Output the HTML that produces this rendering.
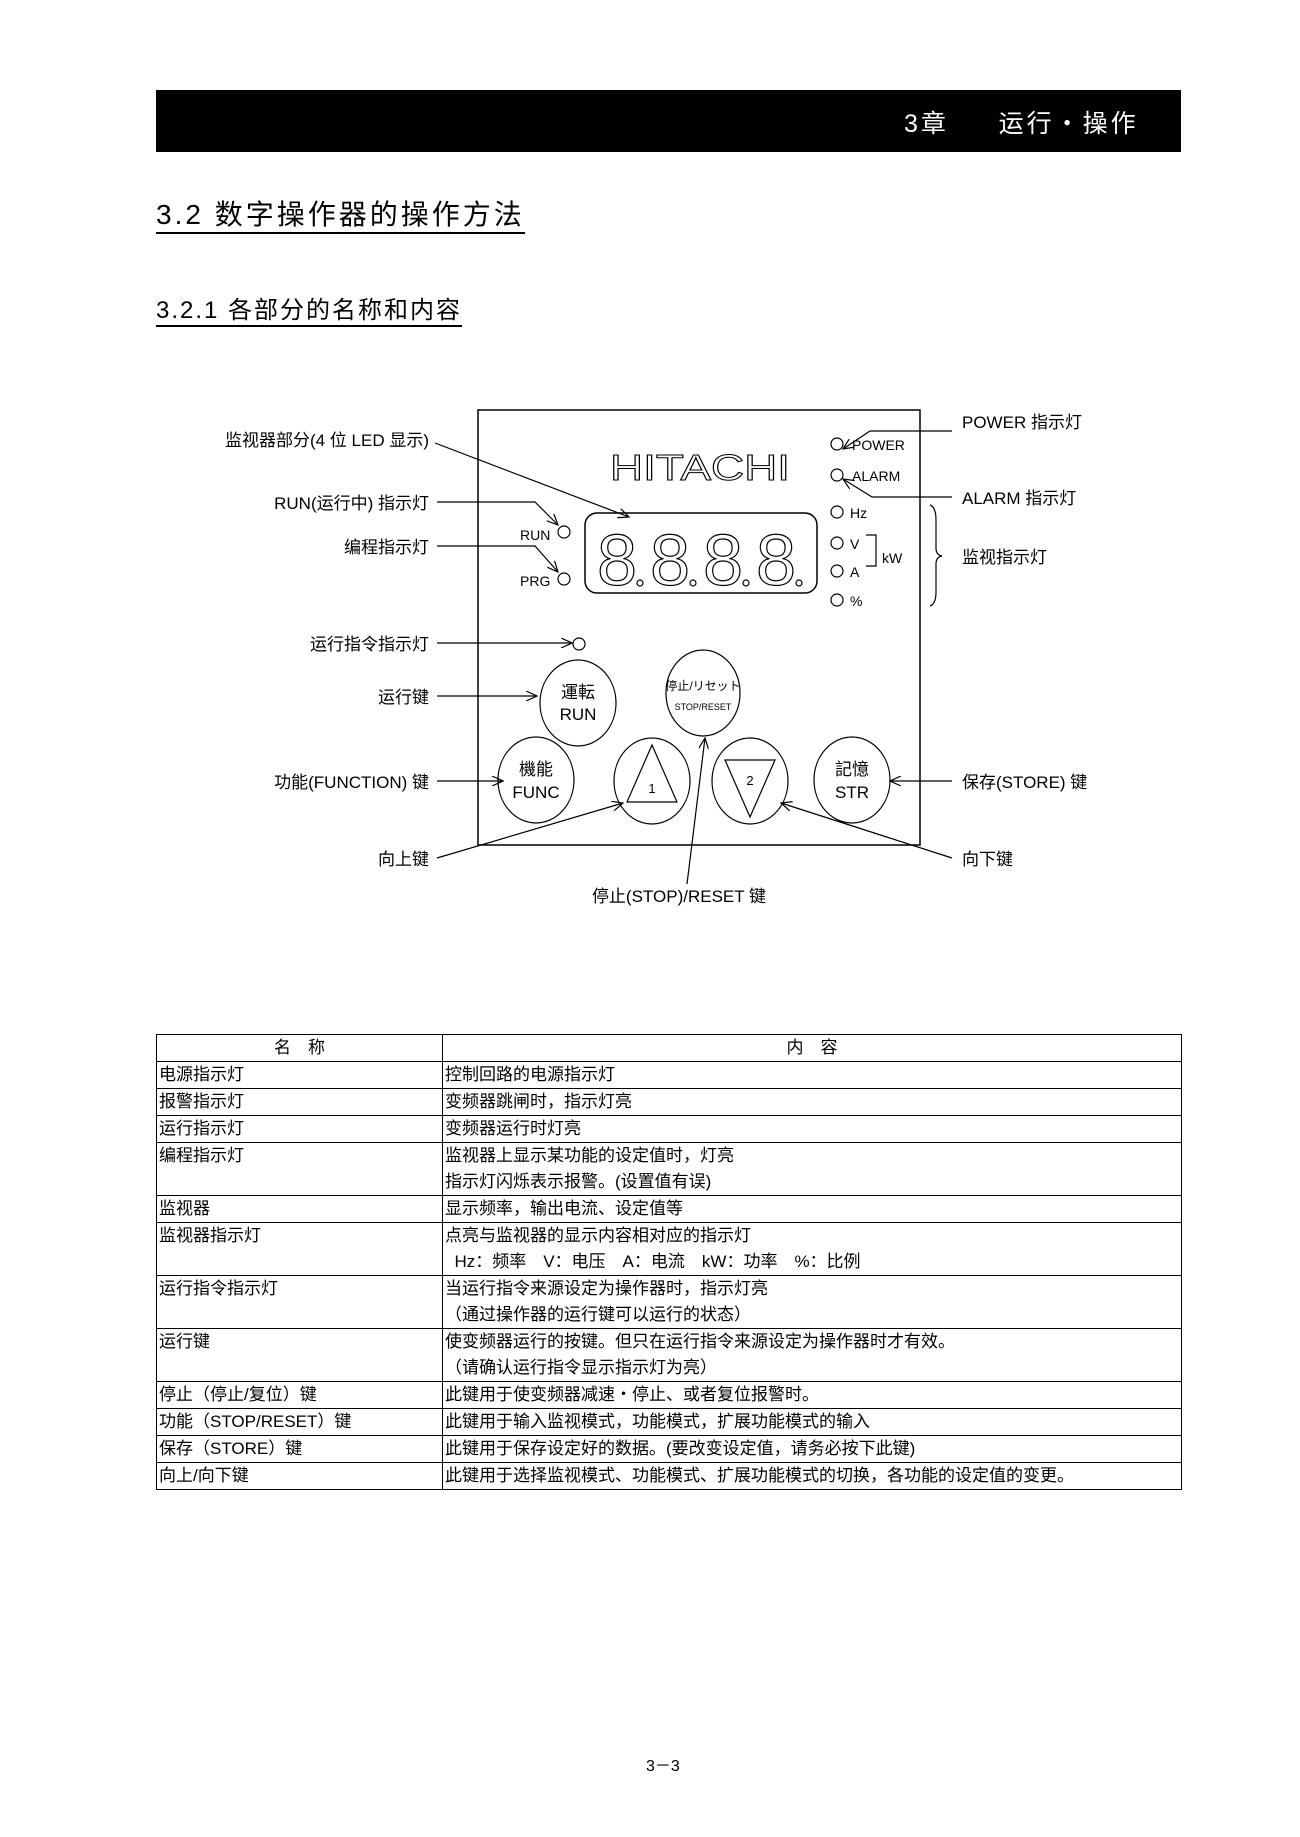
<!DOCTYPE html>
<html><head><meta charset="utf-8"><style>
html,body{margin:0;padding:0;background:#fff;}
body{width:1300px;height:1837px;position:relative;font-family:"Liberation Sans","Noto Sans CJK SC",sans-serif;color:#000;}
.bar{position:absolute;left:156px;top:90px;width:1025px;height:62px;background:#000;}
.bar span{position:absolute;left:748px;top:14px;color:#fff;font-size:25px;white-space:pre;letter-spacing:3px;}
.h1{position:absolute;left:156px;top:198px;font-size:28px;border-bottom:2px solid #000;line-height:34px;letter-spacing:3px;}
.h2{position:absolute;left:156px;top:296px;font-size:24px;border-bottom:2px solid #000;line-height:29px;letter-spacing:2px;}
table{position:absolute;left:156px;top:1034px;width:1026px;border-collapse:collapse;font-size:17px;}
td{border:1px solid #000;padding:0 2px;line-height:26px;vertical-align:top;}
td.a{width:281px;}
.pn{position:absolute;left:646px;top:1752px;font-size:16px;}
</style></head><body>
<div class="bar"><span>3章     运行・操作</span></div>
<div class="h1">3.2 数字操作器的操作方法</div>
<div class="h2">3.2.1 各部分的名称和内容</div>

<svg style="position:absolute;left:0;top:0" width="1300" height="950" font-family="Liberation Sans, Noto Sans CJK SC, sans-serif">
<defs><marker id="ar" markerWidth="12" markerHeight="10" refX="11" refY="5" orient="auto" markerUnits="userSpaceOnUse"><path d="M0,0 L11,5 L0,10" fill="none" stroke="#000" stroke-width="1.2"/></marker></defs>
<rect x="478" y="410" width="442" height="435" fill="none" stroke="#000" stroke-width="1.5"/>
<text x="700" y="480" font-size="36" text-anchor="middle" fill="none" stroke="#000" stroke-width="1" textLength="180" lengthAdjust="spacingAndGlyphs">HITACHI</text>
<rect x="585" y="513" width="232" height="80" rx="12" fill="none" stroke="#000" stroke-width="1.5"/>
<g font-size="72" fill="none" stroke="#000" stroke-width="1.2">
<text x="597" y="585">8</text><text x="650" y="585">8</text><text x="703" y="585">8</text><text x="756" y="585">8</text></g>
<g fill="none" stroke="#000" stroke-width="1.2">
<circle cx="640" cy="583" r="3"/><circle cx="693" cy="583" r="3"/><circle cx="746" cy="583" r="3"/><circle cx="799" cy="583" r="3"/>
<circle cx="564" cy="532" r="6"/><circle cx="564" cy="579" r="6"/><circle cx="579" cy="644" r="6"/>
<circle cx="837" cy="444" r="6"/><circle cx="837" cy="475" r="6"/><circle cx="837" cy="512" r="6"/><circle cx="837" cy="543" r="6"/><circle cx="837" cy="571" r="6"/><circle cx="837" cy="600" r="6"/>
<path d="M866,535 L876,535 L876,566 L866,566"/>
<path d="M930,505 Q936,507 936,520 L936,548 Q936,555 942,556 Q936,557 936,564 L936,592 Q936,604 930,606"/>
<ellipse cx="578" cy="703" rx="38" ry="43"/><ellipse cx="703" cy="693" rx="37" ry="43"/>
<ellipse cx="536" cy="780" rx="38" ry="43"/><ellipse cx="652" cy="781" rx="38" ry="43"/><ellipse cx="750" cy="781" rx="38" ry="43"/><ellipse cx="852" cy="780" rx="38" ry="43"/>
<path d="M652,745 L627,802 L677,802 Z"/><path d="M725,760 L775,760 L750,817 Z"/>
</g>
<g font-size="14"><text x="520" y="540">RUN</text><text x="520" y="586">PRG</text>
<text x="852" y="450">POWER</text><text x="852" y="481">ALARM</text><text x="850" y="518">Hz</text><text x="850" y="549">V</text><text x="850" y="577">A</text><text x="850" y="606">%</text><text x="882" y="563">kW</text></g>
<g font-size="17" text-anchor="middle"><text x="578" y="698">運転</text><text x="578" y="720">RUN</text>
<text x="536" y="775">機能</text><text x="536" y="798">FUNC</text><text x="852" y="775">記憶</text><text x="852" y="798">STR</text></g>
<g text-anchor="middle"><text x="703" y="690" font-size="12">停止/リセット</text><text x="703" y="710" font-size="9">STOP/RESET</text>
<text x="652" y="793" font-size="13">1</text><text x="750" y="785" font-size="13">2</text></g>
<g font-size="17" text-anchor="end">
<text x="429" y="446">监视器部分(4 位 LED 显示)</text><text x="429" y="509">RUN(运行中) 指示灯</text><text x="429" y="553">编程指示灯</text>
<text x="429" y="650">运行指令指示灯</text><text x="429" y="703">运行键</text><text x="429" y="788">功能(FUNCTION) 键</text><text x="429" y="865">向上键</text></g>
<g font-size="17"><text x="962" y="428">POWER 指示灯</text><text x="962" y="504">ALARM 指示灯</text><text x="962" y="563">监视指示灯</text>
<text x="962" y="788">保存(STORE) 键</text><text x="962" y="865">向下键</text><text x="679" y="902" text-anchor="middle">停止(STOP)/RESET 键</text></g>
<g fill="none" stroke="#000" stroke-width="1.2" marker-end="url(#ar)">
<path d="M435,443 L629,517"/><path d="M437,502 L535,502 L558,525"/><path d="M437,546 L535,546 L558,572"/>
<path d="M437,643 L572,643"/><path d="M437,696 L537,696"/><path d="M437,781 L503,781"/>
<path d="M437,858 L623,803"/><path d="M687,884 L705,738"/><path d="M952,858 L781,803"/><path d="M952,781 L890,781"/>
<path d="M952,431 L870,431 L843,449"/><path d="M952,497 L872,497 L843,479"/>
</g>
</svg>

<table>
<tr><td class="a" style="text-align:center">名　称</td><td style="text-align:center">内　容</td></tr>
<tr><td class="a">电源指示灯</td><td>控制回路的电源指示灯</td></tr>
<tr><td class="a">报警指示灯</td><td>变频器跳闸时，指示灯亮</td></tr>
<tr><td class="a">运行指示灯</td><td>变频器运行时灯亮</td></tr>
<tr><td class="a">编程指示灯</td><td>监视器上显示某功能的设定值时，灯亮<br>指示灯闪烁表示报警。(设置值有误)</td></tr>
<tr><td class="a">监视器</td><td>显示频率，输出电流、设定值等</td></tr>
<tr><td class="a">监视器指示灯</td><td>点亮与监视器的显示内容相对应的指示灯<br>&nbsp;&nbsp;Hz：频率　V：电压　A：电流　kW：功率　%：比例</td></tr>
<tr><td class="a">运行指令指示灯</td><td>当运行指令来源设定为操作器时，指示灯亮<br>（通过操作器的运行键可以运行的状态）</td></tr>
<tr><td class="a">运行键</td><td>使变频器运行的按键。但只在运行指令来源设定为操作器时才有效。<br>（请确认运行指令显示指示灯为亮）</td></tr>
<tr><td class="a">停止（停止/复位）键</td><td>此键用于使变频器减速・停止、或者复位报警时。</td></tr>
<tr><td class="a">功能（STOP/RESET）键</td><td>此键用于输入监视模式，功能模式，扩展功能模式的输入</td></tr>
<tr><td class="a">保存（STORE）键</td><td>此键用于保存设定好的数据。(要改变设定值，请务必按下此键)</td></tr>
<tr><td class="a">向上/向下键</td><td>此键用于选择监视模式、功能模式、扩展功能模式的切换，各功能的设定值的变更。</td></tr>
</table>
<div class="pn">3－3</div>
</body></html>
